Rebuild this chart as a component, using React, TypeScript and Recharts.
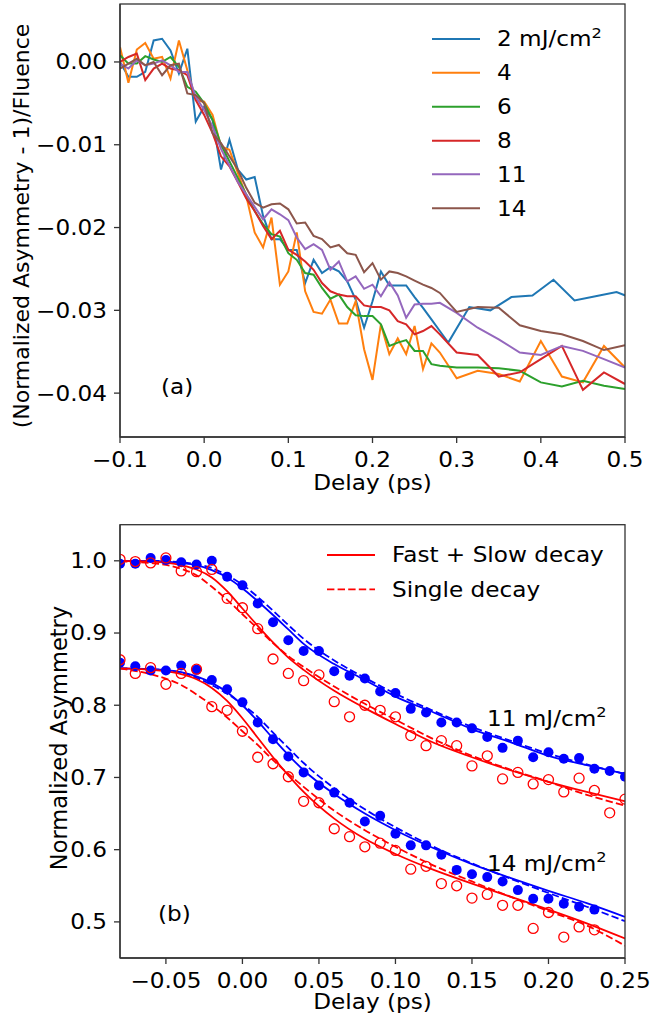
import type { ReactNode } from "react";
import { ComposedChart, LineChart, Line, Scatter, XAxis, YAxis } from "recharts";

const FONT = "'DejaVu Sans', sans-serif";
const FS = 20.5;
const STRETCH = 1.13;
const AXIS = "#333";

// ---------- panel (a): asymmetry change per fluence ----------
const delaysEarly = [
  -0.1, -0.09, -0.08, -0.07, -0.06, -0.05, -0.04, -0.03, -0.02, -0.01,
  0, 0.01, 0.02, 0.03, 0.04, 0.05, 0.06, 0.07, 0.08, 0.09,
  0.1, 0.11, 0.12, 0.13, 0.14, 0.15, 0.16, 0.17, 0.18, 0.19,
  0.2, 0.21, 0.22, 0.23, 0.24, 0.25, 0.26, 0.27, 0.28,
];
const delaysA = [...delaysEarly, 0.3, 0.325, 0.35, 0.375, 0.4, 0.425, 0.45, 0.475, 0.5];
const delaysBlue = [...delaysEarly, 0.29, 0.315, 0.34, 0.365, 0.39, 0.415, 0.44, 0.465, 0.49, 0.515];

const asym2 = [
  0, -0.0018, -0.0018, -0.0012, 0.0026, 0.0028, 0.0014, -0.0014, 0.0016, -0.0072,
  -0.0054, -0.007, -0.013, -0.0094, -0.013, -0.0142, -0.0139, -0.0186, -0.0214, -0.0214,
  -0.0227, -0.0227, -0.0267, -0.0239, -0.0255, -0.0248, -0.0253, -0.0265, -0.0287, -0.0321,
  -0.0289, -0.0253, -0.027, -0.027, -0.027, -0.0284, -0.0297, -0.0311, -0.0325,
  -0.0339, -0.0296, -0.03, -0.0284, -0.0282, -0.0263, -0.0288, -0.0283, -0.0278, -0.0288,
];
const asym4 = [
  0.0018, -0.0025, 0.0015, 0.0023, 0.0004, 0.0006, -0.002, 0.0026, -0.001, -0.0046,
  -0.0048, -0.0064, -0.0102, -0.0106, -0.0134, -0.0162, -0.0206, -0.0224, -0.0188, -0.0269,
  -0.0253, -0.0206, -0.0277, -0.0302, -0.0304, -0.0287, -0.0316, -0.0316, -0.0289, -0.0347,
  -0.0384, -0.0317, -0.0353, -0.0334, -0.0353, -0.0319, -0.0371, -0.034, -0.0351,
  -0.0382, -0.0373, -0.0377, -0.0386, -0.0337, -0.038, -0.0387, -0.0343, -0.0369,
];
const asym6 = [
  0.0008, -0.0002, -0.0002, 0.0007, 0.0003, 0, 0.0006, -0.0006, -0.003, -0.0036,
  -0.005, -0.007, -0.01, -0.012, -0.014, -0.016, -0.018, -0.0196, -0.0208, -0.0211,
  -0.0231, -0.0239, -0.0255, -0.0257, -0.0273, -0.0286, -0.0281, -0.0296, -0.0306, -0.0307,
  -0.0307, -0.0317, -0.0343, -0.0339, -0.0336, -0.0349, -0.0349, -0.0365, -0.0367,
  -0.0369, -0.0369, -0.037, -0.0373, -0.0387, -0.0392, -0.0385, -0.0391, -0.0395,
];
const asym8 = [
  0, 0.0006, 0.001, -0.0022, -0.0008, -0.0002, -0.0008, -0.001, -0.0016, -0.0046,
  -0.0064, -0.0086, -0.0114, -0.0126, -0.0145, -0.0165, -0.018, -0.0198, -0.0214, -0.0204,
  -0.0227, -0.0233, -0.0241, -0.0251, -0.0267, -0.0277, -0.0281, -0.0283, -0.0283, -0.0294,
  -0.0296, -0.0296, -0.03, -0.0313, -0.0317, -0.0329, -0.0325, -0.0319, -0.0329,
  -0.0351, -0.0354, -0.038, -0.0375, -0.0359, -0.0343, -0.0396, -0.0375, -0.0389,
];
const asym11 = [
  -0.0002, -0.0008, 0.0002, -0.0004, -0.0002, 0.0002, -0.0004, -0.0012, -0.0012, -0.0042,
  -0.0058, -0.0078, -0.0105, -0.0125, -0.0145, -0.016, -0.0175, -0.019, -0.0178, -0.0184,
  -0.0191, -0.0212, -0.0226, -0.022, -0.0227, -0.0251, -0.0241, -0.0265, -0.0259, -0.0274,
  -0.0269, -0.0283, -0.0266, -0.0282, -0.0309, -0.0293, -0.0292, -0.0292, -0.0291,
  -0.0303, -0.0321, -0.0335, -0.0351, -0.0354, -0.0343, -0.0349, -0.0359, -0.0369,
];
const asym14 = [
  -0.0008, -0.0002, 0.0004, -0.0004, 0, -0.0016, -0.0004, -0.0002, -0.0038, -0.004,
  -0.005, -0.0086, -0.0098, -0.0114, -0.013, -0.0152, -0.017, -0.0176, -0.0172, -0.0171,
  -0.0178, -0.0195, -0.0194, -0.021, -0.0214, -0.0224, -0.0221, -0.0231, -0.0233, -0.0254,
  -0.0243, -0.0263, -0.0253, -0.0255, -0.0259, -0.0264, -0.0269, -0.0273, -0.0279,
  -0.0302, -0.0296, -0.0297, -0.0318, -0.0325, -0.0329, -0.0337, -0.0348, -0.0342,
];
const fluenceLabels = ["2", "4", "6", "8", "11", "14"];
const fluenceColors = ["#1f77b4", "#ff7f0e", "#2ca02c", "#d62728", "#9467bd", "#8c564b"];
const xTicksA = [-0.1, 0, 0.1, 0.2, 0.3, 0.4, 0.5];
const yTicksA = [-0.04, -0.03, -0.02, -0.01, 0];

// ---------- panel (b): normalized asymmetry with fits ----------
const pointDelays = [
  -0.08, -0.07, -0.06, -0.05, -0.04, -0.03, -0.02, -0.01, 0, 0.01,
  0.02, 0.03, 0.04, 0.05, 0.06, 0.07, 0.08, 0.09, 0.1, 0.11,
  0.12, 0.13, 0.14, 0.15, 0.16, 0.17, 0.18, 0.19, 0.2, 0.21,
  0.22, 0.23, 0.24, 0.25,
];
const blue11 = [
  0.996, 0.996, 1.004, 1.001, 0.998, 0.995, 1.0, 0.978, 0.966, 0.941,
  0.915, 0.89, 0.875, 0.875, 0.847, 0.841, 0.837, 0.819, 0.817, 0.795,
  0.79, 0.776, 0.776, 0.768, 0.756, 0.741, 0.751, 0.728, 0.735, 0.726,
  0.727, 0.712, 0.709, 0.701,
];
const red11 = [
  1.002, 0.999, 0.997, 1.004, 0.986, 0.985, 0.988, 0.948, 0.935, 0.906,
  0.864, 0.844, 0.834, 0.842, 0.805, 0.784, 0.8, 0.793, 0.784, 0.758,
  0.744, 0.751, 0.744, 0.716, 0.73, 0.698, 0.707, 0.691, 0.697, 0.68,
  0.699, 0.682, 0.651, 0.67,
];
const blue14 = [
  0.859, 0.854, 0.848, 0.848, 0.855, 0.849, 0.835, 0.822, 0.804, 0.776,
  0.753, 0.729, 0.707, 0.689, 0.679, 0.665, 0.639, 0.647, 0.622, 0.606,
  0.606, 0.593, 0.572, 0.566, 0.562, 0.556, 0.544, 0.532, 0.532, 0.525,
  0.521, 0.517,
];
const red14 = [
  0.863, 0.844, 0.852, 0.829, 0.844, 0.85, 0.798, 0.793, 0.764, 0.728,
  0.719, 0.701, 0.667, 0.665, 0.629, 0.618, 0.604, 0.609, 0.599, 0.573,
  0.577, 0.553, 0.55, 0.533, 0.538, 0.523, 0.523, 0.491, 0.513, 0.479,
  0.493, 0.489,
];

const fitDelays = [
  -0.08, -0.06, -0.04, -0.03, -0.02, -0.01, 0, 0.01, 0.02, 0.03,
  0.04, 0.06, 0.08, 0.1, 0.125, 0.15, 0.175, 0.2, 0.225, 0.25,
];
const fitBlue11Two = [
  1.0, 1.0, 0.997, 0.994, 0.987, 0.977, 0.962, 0.944, 0.925, 0.905,
  0.885, 0.857, 0.835, 0.812, 0.79, 0.767, 0.749, 0.73, 0.717, 0.705,
];
const fitBlue11One = [
  1.0, 1.0, 0.998, 0.995, 0.99, 0.98, 0.967, 0.95, 0.931, 0.911,
  0.892, 0.862, 0.838, 0.816, 0.792, 0.77, 0.751, 0.733, 0.718, 0.705,
];
const fitRed11Two = [
  1.0, 0.999, 0.994, 0.988, 0.977, 0.958, 0.934, 0.91, 0.887, 0.866,
  0.849, 0.82, 0.796, 0.774, 0.748, 0.728, 0.71, 0.694, 0.68, 0.667,
];
const fitRed11One = [
  0.999, 0.997, 0.989, 0.98, 0.964, 0.946, 0.926, 0.906, 0.886, 0.868,
  0.853, 0.826, 0.802, 0.78, 0.753, 0.73, 0.711, 0.694, 0.676, 0.661,
];
const fitBlue14Two = [
  0.851, 0.85, 0.846, 0.84, 0.831, 0.818, 0.8, 0.778, 0.754, 0.731,
  0.71, 0.677, 0.65, 0.627, 0.602, 0.58, 0.561, 0.543, 0.526, 0.507,
];
const fitBlue14One = [
  0.851, 0.85, 0.845, 0.838, 0.828, 0.816, 0.801, 0.784, 0.762, 0.741,
  0.72, 0.685, 0.656, 0.631, 0.604, 0.581, 0.56, 0.54, 0.521, 0.501,
];
const fitRed14Two = [
  0.851, 0.849, 0.843, 0.836, 0.824, 0.806, 0.782, 0.755, 0.728, 0.703,
  0.68, 0.643, 0.615, 0.594, 0.572, 0.553, 0.535, 0.517, 0.498, 0.477,
];
const fitRed14One = [
  0.851, 0.843, 0.828, 0.815, 0.8, 0.783, 0.764, 0.745, 0.724, 0.705,
  0.687, 0.654, 0.627, 0.604, 0.578, 0.556, 0.535, 0.515, 0.495, 0.467,
];
const xTicksB = [-0.05, 0, 0.05, 0.1, 0.15, 0.2, 0.25];
const yTicksB = [0.5, 0.6, 0.7, 0.8, 0.9, 1.0];

const BLUE = "#0000ff";
const RED = "#ff0000";
const DASH = "7.4 3.2";

const zip = (xs: number[], ys: number[]) => ys.map((y, i) => ({ x: xs[i], y }));

const fmt = (digits: number) => (v: number) => {
  const s = Math.abs(v).toFixed(digits);
  return v < -1e-9 ? "\u2212" + s : s;
};

// matplotlib text in the source is a bit wider than tall, so stretch horizontally
const tickRenderer = (format: (v: number) => string, side: "x" | "y") => (props: any) => {
  const { x, y, payload } = props;
  return (
    <text
      transform={`translate(${x},${y}) scale(${STRETCH},1)`}
      textAnchor={side === "x" ? "middle" : "end"}
      dy={side === "x" ? "0.72em" : "0.36em"}
      fontSize={FS}
      fontFamily={FONT}
      fill="#000"
    >
      {format(payload.value)}
    </text>
  );
};

function Txt({ x, y, anchor = "start", children }: { x: number; y: number; anchor?: "start" | "middle" | "end"; children: ReactNode }) {
  return (
    <text transform={`translate(${x},${y}) scale(${STRETCH},1)`} textAnchor={anchor} fontSize={FS} fontFamily={FONT} fill="#000">
      {children}
    </text>
  );
}

const Sup = ({ children }: { children: ReactNode }) => (
  <tspan fontSize={FS * 0.7} dy={-FS * 0.42}>
    {children}
  </tspan>
);

const FilledDot = (p: any) => <circle cx={p.cx} cy={p.cy} r={5} fill={BLUE} />;
const OpenDot = (p: any) => <circle cx={p.cx} cy={p.cy} r={5} fill="none" stroke={RED} strokeWidth={1.3} />;

function PanelA() {
  const series = [
    zip(delaysBlue, asym2),
    zip(delaysA, asym4),
    zip(delaysA, asym6),
    zip(delaysA, asym8),
    zip(delaysA, asym11),
    zip(delaysA, asym14),
  ];
  return (
    <LineChart width={661} height={500} margin={{ top: 4, right: 36, bottom: 3, left: 0 }}>
      <XAxis
        type="number"
        dataKey="x"
        domain={[-0.1, 0.5]}
        ticks={xTicksA}
        allowDataOverflow
        height={60}
        tickSize={6}
        tickMargin={9}
        stroke={AXIS}
        strokeWidth={1.3}
        tick={tickRenderer(fmt(1), "x")}
      />
      <YAxis
        type="number"
        dataKey="y"
        domain={[-0.0453, 0.007]}
        ticks={yTicksA}
        allowDataOverflow
        width={120}
        tickSize={6}
        tickMargin={7}
        stroke={AXIS}
        strokeWidth={1.3}
        tick={tickRenderer(fmt(2), "y")}
      />
      {series.map((d, i) => (
        <Line
          key={fluenceLabels[i]}
          data={d}
          dataKey="y"
          type="linear"
          stroke={fluenceColors[i]}
          strokeWidth={2}
          dot={false}
          isAnimationActive={false}
        />
      ))}
    </LineChart>
  );
}

function PanelB() {
  const fits = [
    { d: zip(fitDelays, fitBlue11Two), c: BLUE, dash: undefined },
    { d: zip(fitDelays, fitBlue11One), c: BLUE, dash: DASH },
    { d: zip(fitDelays, fitRed11Two), c: RED, dash: undefined },
    { d: zip(fitDelays, fitRed11One), c: RED, dash: DASH },
    { d: zip(fitDelays, fitBlue14Two), c: BLUE, dash: undefined },
    { d: zip(fitDelays, fitBlue14One), c: BLUE, dash: DASH },
    { d: zip(fitDelays, fitRed14Two), c: RED, dash: undefined },
    { d: zip(fitDelays, fitRed14One), c: RED, dash: DASH },
  ];
  return (
    <ComposedChart width={661} height={516} margin={{ top: 24.7, right: 36, bottom: 8, left: 0 }}>
      <XAxis
        type="number"
        dataKey="x"
        domain={[-0.08, 0.25]}
        ticks={xTicksB}
        allowDataOverflow
        height={50}
        tickSize={6}
        tickMargin={9}
        stroke={AXIS}
        strokeWidth={1.3}
        tick={tickRenderer(fmt(2), "x")}
      />
      <YAxis
        type="number"
        dataKey="y"
        domain={[0.45, 1.05]}
        ticks={yTicksB}
        allowDataOverflow
        width={120}
        tickSize={6}
        tickMargin={7}
        stroke={AXIS}
        strokeWidth={1.3}
        tick={tickRenderer(fmt(1), "y")}
      />
      <Scatter data={zip(pointDelays, blue11)} dataKey="y" shape={FilledDot} isAnimationActive={false} />
      <Scatter data={zip(pointDelays, red11)} dataKey="y" shape={OpenDot} isAnimationActive={false} />
      <Scatter data={zip(pointDelays, blue14)} dataKey="y" shape={FilledDot} isAnimationActive={false} />
      <Scatter data={zip(pointDelays, red14)} dataKey="y" shape={OpenDot} isAnimationActive={false} />
      {fits.map((f, i) => (
        <Line
          key={i}
          data={f.d}
          dataKey="y"
          type="monotone"
          stroke={f.c}
          strokeWidth={1.8}
          strokeDasharray={f.dash}
          dot={false}
          isAnimationActive={false}
        />
      ))}
    </ComposedChart>
  );
}

function Overlay() {
  const rowY = [39, 72.7, 106.7, 140.7, 174.3, 208.3];
  return (
    <svg width={661} height={1016} style={{ position: "absolute", left: 0, top: 0, pointerEvents: "none" }}>
      {/* axes frames (top/right spines) */}
      <rect x={120} y={4} width={505} height={433} fill="none" stroke={AXIS} strokeWidth={1.3} />
      <rect x={120} y={524.7} width={505} height={433.3} fill="none" stroke={AXIS} strokeWidth={1.3} />

      {/* panel (a) legend */}
      {fluenceLabels.map((lab, i) => (
        <g key={lab}>
          <line x1={432} x2={480} y1={rowY[i]} y2={rowY[i]} stroke={fluenceColors[i]} strokeWidth={2} />
          <Txt x={497} y={rowY[i] + 7.4}>
            {i === 0 ? (
              <>
                2 mJ/cm<Sup>2</Sup>
              </>
            ) : (
              lab
            )}
          </Txt>
        </g>
      ))}
      <Txt x={161} y={394}>(a)</Txt>
      <Txt x={372.5} y={490} anchor="middle">Delay (ps)</Txt>
      <text transform="translate(29,226) rotate(-90)" textAnchor="middle" fontSize={22} fontFamily={FONT} fill="#000">
        (Normalized Asymmetry - 1)/Fluence
      </text>

      {/* panel (b) legend */}
      <line x1={327} x2={375} y1={555} y2={555} stroke={RED} strokeWidth={1.8} />
      <Txt x={392} y={562.4}>Fast + Slow decay</Txt>
      <line x1={327} x2={375} y1={589.3} y2={589.3} stroke={RED} strokeWidth={1.8} strokeDasharray={DASH} />
      <Txt x={392} y={596.7}>Single decay</Txt>
      <Txt x={487} y={725.5}>
        11 mJ/cm<Sup>2</Sup>
      </Txt>
      <Txt x={487} y={870.5}>
        14 mJ/cm<Sup>2</Sup>
      </Txt>
      <Txt x={158} y={920.5}>(b)</Txt>
      <Txt x={372.5} y={1009} anchor="middle">Delay (ps)</Txt>
      <text transform="translate(67,738) rotate(-90)" textAnchor="middle" fontSize={22.5} fontFamily={FONT} fill="#000">
        Normalized Asymmetry
      </text>
    </svg>
  );
}

export default function App() {
  return (
    <div style={{ position: "absolute", left: 0, top: 0, width: 661, height: 1016, background: "#fff", fontFamily: FONT }}>
      <div style={{ position: "absolute", left: 0, top: 0 }}>
        <PanelA />
      </div>
      <div style={{ position: "absolute", left: 0, top: 500 }}>
        <PanelB />
      </div>
      <Overlay />
    </div>
  );
}
